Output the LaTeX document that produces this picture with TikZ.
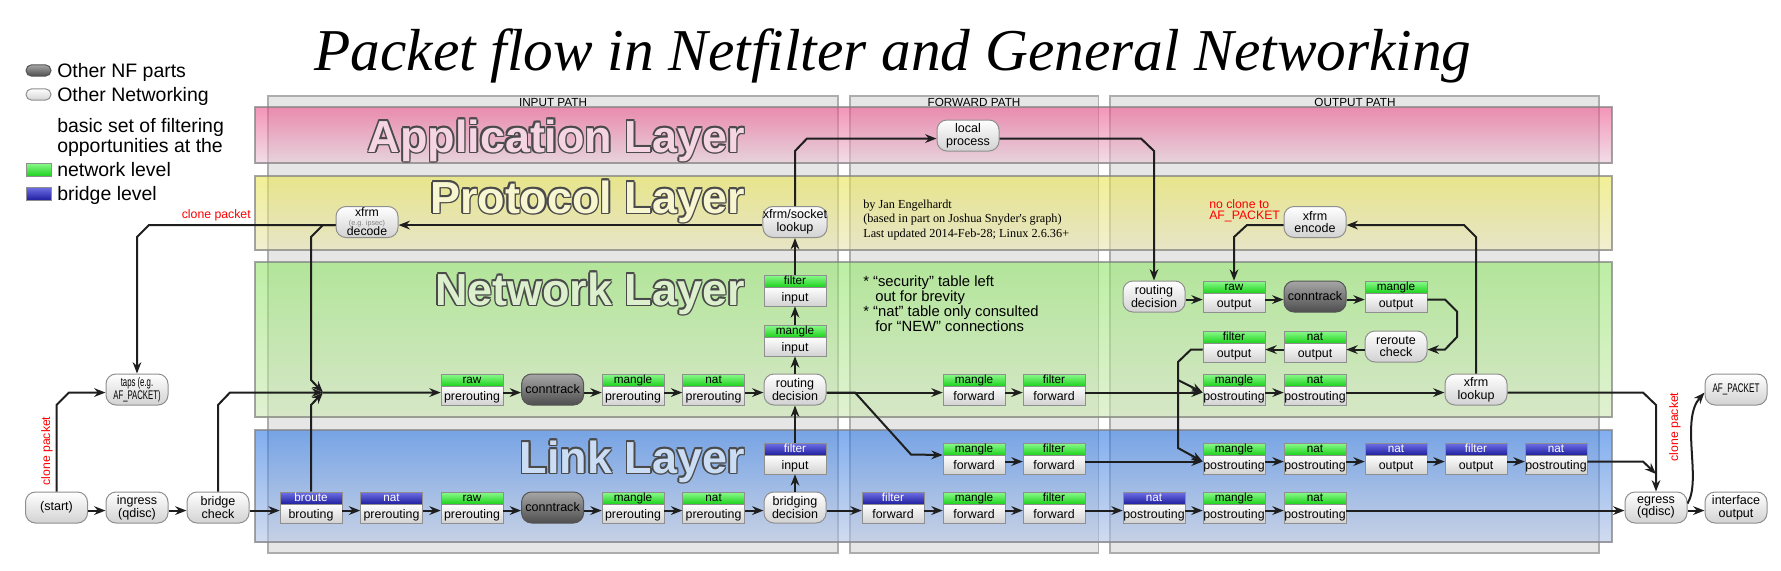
\documentclass[tikz,border=0pt]{standalone}
\usepackage{fontspec}
\setmainfont{Liberation Sans}
\newfontfamily\seriffam{Liberation Serif}
\usetikzlibrary{arrows.meta}
\newcommand\fs[2]{\fontsize{#1}{#2}\selectfont}
\definecolor{linec}{HTML}{1E1E1E}
\definecolor{panelc}{HTML}{E6E6E6}
\definecolor{paneld}{HTML}{ADADAD}
\definecolor{nodeb}{HTML}{8F8F8F}
\definecolor{wbot}{HTML}{D2D2D2}
\definecolor{ctop}{HTML}{A6A6A6}
\definecolor{cbot}{HTML}{4E4E4E}
\definecolor{ctd}{HTML}{555555}
\definecolor{gtop}{HTML}{8CFA8C}
\definecolor{gbot}{HTML}{1ED21E}
\definecolor{btop}{HTML}{7070E8}
\definecolor{bbot}{HTML}{2020A0}
\definecolor{apT}{RGB}{237,79,137}
\definecolor{apB}{RGB}{232,199,215}
\definecolor{prT}{RGB}{232,229,78}
\definecolor{prB}{RGB}{232,229,179}
\definecolor{neT}{RGB}{145,229,104}
\definecolor{neB}{RGB}{204,232,179}
\definecolor{liT}{RGB}{45,120,229}
\definecolor{liB}{RGB}{179,196,229}
\definecolor{apF}{HTML}{F5D5E3}
\definecolor{prF}{HTML}{F8F6D0}
\definecolor{neF}{HTML}{DCF0CE}
\definecolor{liF}{HTML}{CADDF5}
\definecolor{layd}{HTML}{4A4A4A}
\newcommand\hsc[1]{\scalebox{0.62}[1]{#1}}
% table box: name, cx, top, G/B, header, body
\newcommand\tbox[6]{%
  \node[tb] (#1) at (#2,#3+15.5) {};
  \shade[bd] (#2-31,#3+12) rectangle (#2+31,#3+31);
  \shade[h#4] (#2-31,#3) rectangle (#2+31,#3+12);
  \node[t#4,anchor=base,inner sep=0pt,font=\fs{8.8}{9}] at (#2,#3+9.9) {#5};
  \node[anchor=base,inner sep=0pt,font=\fs{9.3}{10}] at (#2,#3+26) {#6};
}
\newcommand\layertitle[4]{%
  \foreach \dx/\dy in {-1.1/0,1.1/0,0/-1.1,0/1.1,-0.8/-0.8,0.8/0.8,-0.8/0.8,0.8/-0.8}{%
    \node[lay,text=layd,xshift=\dx pt,yshift=\dy pt] at (#1,#2) {#4};}%
  \node[lay,text=#3] at (#1,#2) {#4};%
}
\begin{document}
\begin{tikzpicture}[x=0.75pt,y=-0.75pt,
  arr/.style={draw=linec,line width=1.5pt,-{Stealth[length=8.5pt,width=6.5pt]}},
  ys/.style={yshift=-2.3pt},
  rn/.style={draw=nodeb,line width=0.75pt,rounded corners=7.5pt,top color=white,bottom color=wbot,
     minimum width=46.5pt,minimum height=23.25pt,inner sep=0pt,align=center,font=\fs{9.4}{9.6},text=black},
  ct/.style={rn,top color=ctop,bottom color=cbot,draw=ctd},
  tb/.style={minimum width=46.5pt,minimum height=23.25pt,inner sep=0pt},
  hG/.style={top color=gtop,bottom color=gbot,draw=nodeb,line width=0.75pt},
  hB/.style={top color=btop,bottom color=bbot,draw=nodeb,line width=0.75pt},
  tG/.style={text=black},
  tB/.style={text=white},
  bd/.style={top color=white,bottom color=wbot,draw=nodeb,line width=0.75pt},
  panel/.style={fill=panelc,draw=paneld,line width=1pt},
  band/.style={fill opacity=0.6,draw=gray,draw opacity=0.7,line width=0.8pt},
  lay/.style={anchor=base east,inner sep=0pt,font=\fs{33.7}{34}\bfseries},
  leg/.style={anchor=base west,inner sep=0pt,font=\fs{14.6}{16}},
  plab/.style={anchor=base,inner sep=0pt,font=\fs{8.8}{9}},
  redt/.style={inner sep=0pt,text=red,font=\fs{9.2}{10}},
]
\useasboundingbox (0,0) rectangle (1781,571);

% title
\node[anchor=base,inner sep=0pt,font=\fs{44.5}{46}\seriffam\itshape] (title) at (893,70) {Packet flow in Netfilter and General Networking};

% legend
\node[ct,minimum width=18.75pt,minimum height=8.5pt,rounded corners=4.2pt] (lg1) at (38.5,70.5) {};
\node[rn,minimum width=18.75pt,minimum height=8.5pt,rounded corners=4.2pt] (lg2) at (38.5,94.5) {};
\node[leg] (lt1) at (57,77) {Other NF parts};
\node[leg] (lt2) at (57,101) {Other Networking};
\node[leg] (lt3) at (57,132) {basic set of filtering};
\node[leg] (lt4) at (57,152) {opportunities at the};
\node[hG,minimum width=18.75pt,minimum height=9.75pt,inner sep=0pt] (lg3) at (38.5,169.5) {};
\node[leg] (lt5) at (57,176) {network level};
\node[hB,minimum width=18.75pt,minimum height=9.75pt,inner sep=0pt] (lg4) at (38.5,193.5) {};
\node[leg] (lt6) at (57,200) {bridge level};

% panels
\draw[panel] (268,96) rectangle (838,553);
\draw[panel] (850,96) rectangle (1098.6,553);
\draw[panel] (1110,96) rectangle (1599,553);
\node[plab] (p1) at (553,106) {INPUT PATH};
\node[plab] (p2) at (974,106) {FORWARD PATH};
\node[plab] (p3) at (1355,106) {OUTPUT PATH};

% bands
\shade[band,top color=apT,bottom color=apB] (255,107) rectangle (1612,163);
\shade[band,top color=prT,bottom color=prB] (255,176) rectangle (1612,250);
\shade[band,top color=neT,bottom color=neB] (255,262) rectangle (1612,417);
\shade[band,top color=liT,bottom color=liB] (255,430) rectangle (1612,542);

\layertitle{745}{152}{apF}{Application Layer}
\layertitle{745}{213}{prF}{Protocol Layer}
\layertitle{745}{305}{neF}{Network Layer}
\layertitle{745}{473}{liF}{Link Layer}

% credits and notes
\node[anchor=base west,inner sep=0pt,font=\fs{9.2}{11}\seriffam] (cr1) at (863,208) {by Jan Engelhardt};
\node[anchor=base west,inner sep=0pt,font=\fs{9.2}{11}\seriffam] (cr2) at (863,222.5) {(based in part on Joshua Snyder's graph)};
\node[anchor=base west,inner sep=0pt,font=\fs{9.2}{11}\seriffam] (cr3) at (863,237) {Last updated 2014-Feb-28; Linux 2.6.36+};
\node[anchor=base west,inner sep=0pt,font=\fs{11.1}{12}] (n1) at (863,286.7) {* “security” table left};
\node[anchor=base west,inner sep=0pt,font=\fs{11.1}{12}] (n2) at (875,301.7) {out for brevity};
\node[anchor=base west,inner sep=0pt,font=\fs{11.1}{12}] (n3) at (863,316.7) {* “nat” table only consulted};
\node[anchor=base west,inner sep=0pt,font=\fs{11.1}{12}] (n4) at (875,331.7) {for “NEW” connections};

% red labels
\node[redt,anchor=base east] (cl1) at (251,218) {clone packet};
\node[redt,rotate=90] (cl2) at (47,451) {clone packet};
\node[redt,rotate=90] (cl3) at (1675,427) {clone packet};
\node[redt,anchor=base west] (nc1) at (1209,208) {no clone to};
\node[redt,anchor=base west] (nc2) at (1209,219) {AF\_PACKET};

% rounded nodes
\node[rn] (start) at (56.5,507.5) {(start)};
\node[rn] (ingress) at (137,507.5) {ingress\\(qdisc)};
\node[rn] (bridge) at (218,507.5) {bridge\\check};
\node[rn,font=\fs{9.4}{9.4}] (taps) at (137,389.5) {\hsc{taps (e.g.}\\\hsc{AF\_PACKET)}};
\node[rn] (xfrmdec) at (367,222) {};
\node[anchor=base,inner sep=0pt,font=\fs{9.2}{9}] (xd1) at (367,216.5) {xfrm};
\node[anchor=base,inner sep=0pt,font=\fs{5.4}{6},text=gray] (xd2) at (367,225) {(e.g. ipsec)};
\node[anchor=base,inner sep=0pt,font=\fs{9.2}{9}] (xd3) at (367,235) {decode};
\node[rn] (xfrmsock) at (795,222) {xfrm/socket\\lookup};
\node[rn] (local) at (968,135.5) {local\\process};
\node[rn] (rdin) at (795,389.5) {routing\\decision};
\node[rn] (bridging) at (795,507.5) {bridging\\decision};
\node[rn] (rdout) at (1154,296.5) {routing\\decision};
\node[rn] (reroute) at (1396,346.5) {reroute\\check};
\node[rn] (xfrmlk) at (1476,389.5) {xfrm\\lookup};
\node[rn] (xfrmenc) at (1315,222) {xfrm\\encode};
\node[rn] (egress) at (1656,507.5) {egress\\(qdisc)};
\node[rn] (ifout) at (1736,507.5) {interface\\output};
\node[rn] (afp) at (1736,389.5) {\scalebox{0.65}[1]{AF\_PACKET}};
\node[ct] (ctin) at (552.6,389.5) {conntrack};
\node[ct] (ctlink) at (552.6,507.5) {conntrack};
\node[ct] (ctout) at (1315,296.5) {conntrack};

% table boxes
\tbox{rawpreN}{472}{374}{G}{raw}{prerouting}
\tbox{manpreN}{633}{374}{G}{mangle}{prerouting}
\tbox{natpreN}{713.6}{374}{G}{nat}{prerouting}
\tbox{manginN}{795}{325}{G}{mangle}{input}
\tbox{filtinN}{795}{275}{G}{filter}{input}
\tbox{mangfwdN}{974}{374}{G}{mangle}{forward}
\tbox{filtfwdN}{1054}{374}{G}{filter}{forward}
\tbox{filtinB}{795}{443}{B}{filter}{input}
\tbox{mangfwdL}{974}{443}{G}{mangle}{forward}
\tbox{filtfwdL}{1054}{443}{G}{filter}{forward}
\tbox{mpostLa}{1234}{443}{G}{mangle}{postrouting}
\tbox{npostLa}{1315}{443}{G}{nat}{postrouting}
\tbox{natoutB}{1396}{443}{B}{nat}{output}
\tbox{filtoutB}{1476}{443}{B}{filter}{output}
\tbox{npostB}{1556}{443}{B}{nat}{postrouting}
\tbox{broute}{311}{492}{B}{broute}{brouting}
\tbox{natpreB}{391.5}{492}{B}{nat}{prerouting}
\tbox{rawpreL}{472}{492}{G}{raw}{prerouting}
\tbox{manpreL}{633}{492}{G}{mangle}{prerouting}
\tbox{natpreL}{713.6}{492}{G}{nat}{prerouting}
\tbox{filtfwdB}{893}{492}{B}{filter}{forward}
\tbox{mangfwdLb}{974}{492}{G}{mangle}{forward}
\tbox{filtfwdLb}{1054}{492}{G}{filter}{forward}
\tbox{npostBb}{1154}{492}{B}{nat}{postrouting}
\tbox{mpostLb}{1234}{492}{G}{mangle}{postrouting}
\tbox{npostLb}{1315}{492}{G}{nat}{postrouting}
\tbox{rawout}{1234}{281}{G}{raw}{output}
\tbox{mangout}{1396}{281}{G}{mangle}{output}
\tbox{filtout}{1234}{331}{G}{filter}{output}
\tbox{natout}{1315}{331}{G}{nat}{output}
\tbox{mpostN}{1234}{374}{G}{mangle}{postrouting}
\tbox{npostN}{1315}{374}{G}{nat}{postrouting}

% helper coordinates
\coordinate (J) at (323,392.5);
\coordinate (br) at (1178,380);
\coordinate (mrg) at (1656,474);

% straight chains
\foreach \a/\b in {start/ingress,ingress/bridge,bridge/broute,broute/natpreB,natpreB/rawpreL,rawpreL/ctlink,ctlink/manpreL,manpreL/natpreL,natpreL/bridging,bridging/filtfwdB,filtfwdB/mangfwdLb,mangfwdLb/filtfwdLb,filtfwdLb/npostBb,npostBb/mpostLb,mpostLb/npostLb,npostLb/egress,egress/ifout,rawpreN/ctin,ctin/manpreN,manpreN/natpreN,natpreN/rdin,rdin/mangfwdN,mangfwdN/filtfwdN,filtfwdN/mpostN,mpostN/npostN,npostN/xfrmlk,mangfwdL/filtfwdL,filtfwdL/mpostLa,mpostLa/npostLa,npostLa/natoutB,natoutB/filtoutB,filtoutB/npostB,rdout/rawout,rawout/ctout,ctout/mangout}
  \draw[arr] ([ys]\a.east) -- ([ys]\b.west);
\foreach \a/\b in {reroute/natout,natout/filtout}
  \draw[arr] ([ys]\a.west) -- ([ys]\b.east);
\foreach \a/\b in {rdin/manginN,manginN/filtinN,filtinN/xfrmsock,bridging/filtinB,filtinB/rdin}
  \draw[arr] (\a.north) -- (\b.south);

% bent connectors
\draw[arr] (start.north) -- (56.5,405) -- (69,392.5) -- ([ys]taps.west);
\draw[arr] (bridge.north) -- (218,405) -- (230,392.5) -- (J);
\draw[arr] (broute.north) -- (311,405) -- (J);
\draw[arr] ([ys]xfrmsock.west) -- ([ys]xfrmdec.east);
\draw[arr] ([ys]xfrmdec.west) -- (149,225) -- (137,237) -- (taps.north);
\draw[arr] ([ys]xfrmdec.west) -- (323,225) -- (311,237) -- (311,380) -- (J);
\draw[arr] (J) -- ([ys]rawpreN.west);
\draw[arr] (xfrmsock.north) -- (795,151) -- (807,138.5) -- ([ys]local.west);
\draw[arr] ([ys]local.east) -- (1141,138.5) -- (1154,151) -- (rdout.north);
\draw[arr] ([ys]rdin.east) -- (855,392.5) -- (911,454.5) -- ([yshift=2.6pt]mangfwdL.west);
\draw[arr] ([ys]mangout.east) -- (1445,299.5) -- (1457,311.5) -- (1457,337) -- (1445,349.5) -- ([ys]reroute.east);
\draw[arr] ([ys]filtout.west) -- (1191,349.5) -- (1178,362) -- (1178,448) -- ([ys]mpostLa.west);
\draw[arr] (br) -- ([ys]mpostN.west);
\draw[arr] ([ys]xfrmlk.east) -- (1643,392.5) -- (1656,405) -- (egress.north);
\draw[arr] (xfrmlk.north) -- (1476,237) -- (1464,225) -- ([ys]xfrmenc.east);
\draw[arr] ([ys]xfrmenc.west) -- (1247,225) -- (1234,237) -- (rawout.north);
\draw[arr] ([ys]npostB.east) -- (1643,461.5) -- (mrg);
\draw[arr] ([yshift=3pt]egress.east) .. controls (1702,480) and (1680,420) .. ([ys]afp.west);
\end{tikzpicture}
\end{document}
